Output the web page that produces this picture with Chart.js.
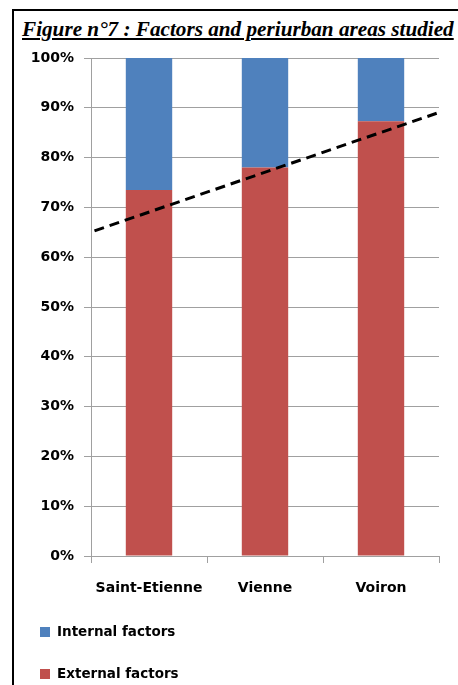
<!DOCTYPE html>
<html>
<head>
<meta charset="utf-8">
<script src="https://cdn.jsdelivr.net/npm/chart.js@4.4.1/dist/chart.umd.min.js"></script>
<style>
  body { margin: 0; background: #fff; }
  #page { position: relative; width: 458px; height: 685px; overflow: hidden; background: #fff; }
  #frame { position: absolute; left: 12px; top: 9px; width: 600px; height: 800px;
           border-left: 2px solid #000; border-top: 2px solid #000; }
  #title { position: absolute; left: 22px; top: 19px; font-family: "Liberation Serif", serif;
           font-weight: bold; font-style: italic; font-size: 21.2px; line-height: 21px;
           text-decoration: underline; white-space: nowrap; color: #000; }
  #chart { position: absolute; left: 0; top: 0; }
  .leg { position: absolute; left: 40px; font-family: "DejaVu Sans", sans-serif; font-weight: bold;
         font-size: 13.5px; line-height: 16px; color: #000; white-space: nowrap; }
  .leg span { display: inline-block; width: 10px; height: 10px; margin-right: 7px; vertical-align: -1px; }
</style>
</head>
<body>
<div id="page">
  <div id="frame"></div>
  <div id="title">Figure n°7 : Factors and periurban areas studied</div>
  <canvas id="chart" width="458" height="685"></canvas>
  <div id="legend"></div>
</div>
<script>
const areas = ["Saint-Etienne", "Vienne", "Voiron"];
const externalFactors = [73.5, 78.0, 87.3];
const internalFactors = [26.5, 22.0, 12.7];
const trendX = [0.03, 2.98];
const trendY = [65.3, 88.9];

const ctx = document.getElementById("chart");

const config = {
  type: "bar",
  data: {
    labels: areas,
    datasets: [
      {
        label: "External factors",
        data: externalFactors,
        backgroundColor: "#c0504d",
        order: 1,
      },
      {
        label: "Internal factors",
        data: internalFactors,
        backgroundColor: "#4f81bd",
        order: 1,
      },
      {
        type: "line",
        label: "Trend",
        data: trendX.map((x, i) => ({ x: x, y: trendY[i] })),
        xAxisID: "x2",
        yAxisID: "y2",
        borderColor: "#000",
        borderWidth: 3,
        borderDash: [10, 6],
        pointRadius: 0,
        fill: false,
        order: 0,
      },
    ],
  },
  options: {
    responsive: false,
    animation: false,
    layout: { padding: { left: 14, right: 19, top: 58, bottom: 84 } },
    datasets: { bar: { categoryPercentage: 1, barPercentage: 0.4, grouped: false } },
    plugins: { legend: { display: false }, tooltip: { enabled: false } },
    scales: {
      x: {
        stacked: true,
        grid: { drawOnChartArea: false, offset: true, tickLength: 7, color: "#a0a0a0" },
        border: { color: "#a0a0a0" },
        ticks: { color: "#000", padding: 17, font: { family: "DejaVu Sans", weight: "bold", size: 14 } },
        afterFit: (s) => { s.height = 45; },
      },
      x2: { type: "linear", display: false, offset: false, min: 0, max: 3 },
      y: {
        stacked: true,
        min: 0,
        max: 100,
        grid: { color: "#a0a0a0", tickLength: 7 },
        border: { color: "#a0a0a0" },
        ticks: {
          stepSize: 10,
          color: "#000",
          padding: 10,
          font: { family: "DejaVu Sans", weight: "bold", size: 14 },
          callback: (v) => v + "%",
        },
        afterFit: (s) => { s.width = 77; },
      },
      y2: { type: "linear", display: false, min: 0, max: 100 },
    },
  },
};

const chart = new Chart(ctx, config);

// legend, listed like the original (top series first)
const legend = document.getElementById("legend");
const legendTops = [623, 665];
chart.data.datasets
  .filter((d) => d.type !== "line")
  .reverse()
  .forEach((d, i) => {
    const el = document.createElement("div");
    el.className = "leg";
    el.style.top = legendTops[i] + "px";
    el.innerHTML = '<span style="background:' + d.backgroundColor + '"></span>' + d.label;
    legend.appendChild(el);
  });
</script>
</body>
</html>
